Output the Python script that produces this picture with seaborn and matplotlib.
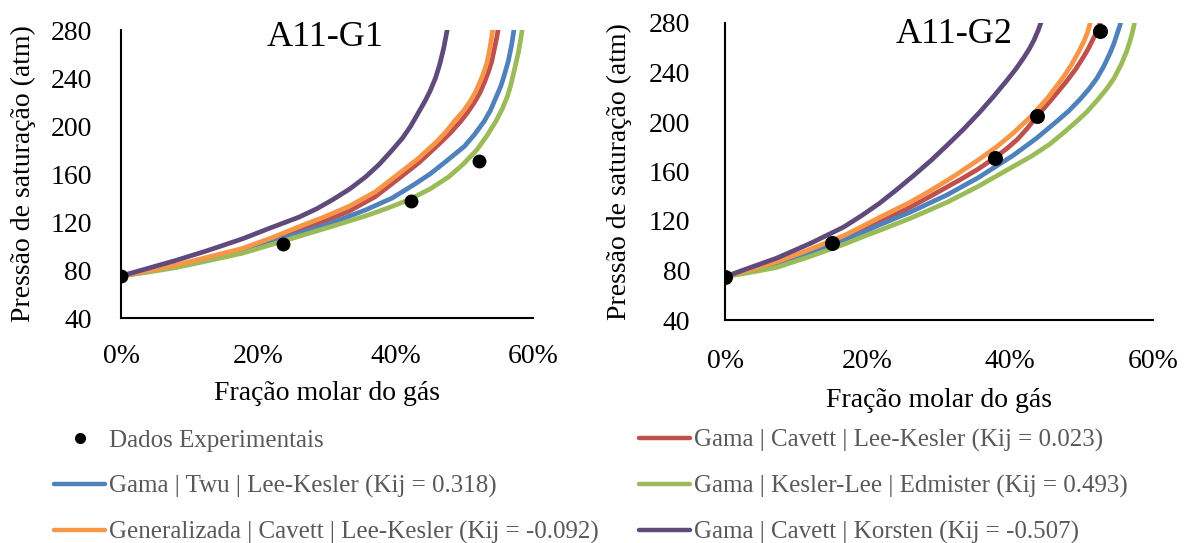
import numpy as np
import pandas as pd
import matplotlib
matplotlib.use("Agg")
import matplotlib.pyplot as plt
from matplotlib.ticker import PercentFormatter, FixedLocator
from matplotlib.lines import Line2D
import seaborn as sns

# ---------------- data (gas mole fraction in %, saturation pressure in atm) ----------------
series_names = [
    "Gama | Cavett | Lee-Kesler (Kij = 0.023)",
    "Gama | Twu | Lee-Kesler (Kij = 0.318)",
    "Gama | Kesler-Lee | Edmister (Kij = 0.493)",
    "Generalizada | Cavett | Lee-Kesler (Kij = -0.092)",
    "Gama | Cavett | Korsten (Kij = -0.507)",
]
exp_label = "Dados Experimentais"
series_colors = ["#C0504D", "#4F81BD", "#9BBB59", "#F79646", "#604A7B"]

# A11-G1
g1_exp_x = [0, 23.6, 42.3, 52.1]
g1_exp_y = [75, 102, 137.5, 171]

g1_red_x = [0, 4, 8, 12.5, 17.7, 21.8, 25.9, 29.5, 33.2, 37, 40.4, 43.5, 46.5, 48, 49.5,
            50.5, 51.5, 52.3, 52.9, 53.5, 54, 54.4, 54.7, 55.0]
g1_red_y = [75, 79, 83.5, 89.5, 97, 104.5, 113, 120.5, 129, 141, 156, 170, 186, 194.5, 204,
            211.5, 220, 228, 236, 245, 254, 265, 273, 283]
g1_blue_x = [0, 4, 8, 12.5, 17.7, 21.8, 25.9, 30.8, 35.6, 39.5, 42.9, 45, 47, 48.5, 50,
             51.5, 52.9, 53.8, 54.7, 55.3, 55.8, 56.4, 56.9, 57.3]
g1_blue_y = [75, 78.8, 83, 89, 96, 103, 110.5, 119.5, 130, 140, 152, 160, 169, 176, 183,
             193, 204, 213, 225, 233, 242, 254, 268, 283]
g1_green_x = [0, 4, 8, 12.5, 17.7, 21.8, 25.9, 30.8, 35.6, 38.8, 41.9, 45, 47.7, 49.8, 51.8,
              53.3, 54.6, 55.5, 56.3, 56.8, 57.3, 57.9, 58.2, 58.5]
g1_green_y = [75, 78.3, 82, 87.5, 94, 101, 108, 116.5, 125, 131.5, 138.5, 147.5, 157.5, 168, 180,
              192, 204, 214, 225, 235, 247, 262, 272, 283]
g1_orange_x = [0, 4, 8, 12.5, 17.7, 21.8, 25.9, 29.5, 33.2, 37, 40.4, 43.2, 45.8, 47.3, 48.7,
               49.8, 50.8, 51.6, 52.3, 52.8, 53.3, 53.6, 53.9, 54.2]
g1_orange_y = [75, 79.5, 84, 90.5, 98, 106.5, 116, 124, 133, 145, 160, 172.5, 186, 195, 205,
               212, 220, 228, 237, 244, 253, 261, 271, 283]
g1_purple_x = [0, 4, 8, 12.5, 17.7, 21.5, 25.9, 28.5, 30.8, 33.3, 35.6, 37.6, 39.5, 41, 42.2,
               43.5, 44.3, 45.0, 45.8, 46.4, 47.0, 47.6]
g1_purple_y = [75, 81.5, 88, 96, 106, 114.5, 124, 131, 138.5, 147.5, 157.5, 168, 180, 190, 200,
               213, 221, 229, 240, 251, 265, 283]

# A11-G2
g2_exp_x = [0, 15.0, 37.8, 43.7, 52.6]
g2_exp_y = [75, 102, 171, 205, 273.5]

g2_red_x = [0, 3.6, 7.25, 11, 15, 18.4, 21.7, 25.9, 28.8, 33, 35.5, 37.8, 39.5, 41, 42.4,
            43.7, 45.6, 47.9, 49.2, 50.3, 51, 51.6, 52.1, 52.5, 52.7]
g2_red_y = [75, 80.5, 86.5, 93.5, 102, 110, 119, 131, 140, 153.5, 162, 171, 178.5, 186, 195,
            204.5, 217, 233, 243, 253, 260, 267, 273, 279, 283]
g2_blue_x = [0, 3.6, 7.25, 12, 16.6, 19.2, 21.7, 25.9, 31.1, 35.5, 40.4, 43.7, 46.5, 48.2,
             49.8, 51, 52.1, 53.1, 54, 54.5, 54.9, 55.3, 55.6]
g2_blue_y = [75, 79.5, 84.5, 94, 104.5, 110.5, 117, 127, 141, 155, 173, 187, 200.5, 209,
             218.5, 226.5, 235, 245, 256, 263, 270, 277, 283]
g2_green_x = [0, 3.6, 7.25, 12, 16.6, 19.2, 21.7, 25.9, 31.1, 35.5, 40.4, 43, 45.5, 47.4,
              49.2, 50.7, 52.1, 53.4, 54.5, 55.5, 56.3, 56.7, 57.0, 57.3, 57.5]
g2_green_y = [75, 78.5, 82.5, 91.5, 101, 107, 112.5, 122, 135, 148, 164, 172.5, 182, 191,
              200, 208, 217, 226, 235, 246, 257, 264, 270, 277, 283]
g2_orange_x = [0, 3.6, 7.25, 11, 16.6, 19.2, 21.7, 25.9, 28.8, 32.3, 35.8, 38.2, 40.4, 43,
               45.3, 47.4, 48.6, 49.6, 50.3, 50.8, 51.3]
g2_orange_y = [75, 81, 87, 95, 108, 115.5, 123, 135, 144.5, 157, 170.5, 180.5, 191, 205,
               220, 236, 246.5, 257, 265, 272, 282]
g2_purple_x = [0, 3.6, 7.25, 12, 16.6, 19.2, 21.7, 24, 26.4, 28.8, 31.1, 33.5, 35.8, 37.7,
               39.5, 40.8, 42, 42.7, 43.3, 43.9, 44.4]
g2_purple_y = [75, 82.5, 90, 102, 115, 124.5, 134.5, 145, 156.5, 168.5, 181, 194.5, 208.5, 221,
               233.5, 243, 253, 259.5, 266, 274, 282]

y_ticks = [40, 80, 120, 160, 200, 240, 280]
x_ticks = [0, 20, 40, 60]
x_label = "Fração molar do gás"
y_label = "Pressão de saturação (atm)"
panel_titles = ["A11-G1", "A11-G2"]


def long_frame(curves):
    rows = []
    for name, xs, ys in curves:
        for x, y in zip(xs, ys):
            rows.append({"serie": name, "x": x / 100.0, "y": y})
    return pd.DataFrame(rows)


g1_curves = long_frame([
    (series_names[0], g1_red_x, g1_red_y),
    (series_names[1], g1_blue_x, g1_blue_y),
    (series_names[2], g1_green_x, g1_green_y),
    (series_names[3], g1_orange_x, g1_orange_y),
    (series_names[4], g1_purple_x, g1_purple_y),
])
g2_curves = long_frame([
    (series_names[0], g2_red_x, g2_red_y),
    (series_names[1], g2_blue_x, g2_blue_y),
    (series_names[2], g2_green_x, g2_green_y),
    (series_names[3], g2_orange_x, g2_orange_y),
    (series_names[4], g2_purple_x, g2_purple_y),
])
g1_points = pd.DataFrame({"x": np.array(g1_exp_x) / 100.0, "y": g1_exp_y})
g2_points = pd.DataFrame({"x": np.array(g2_exp_x) / 100.0, "y": g2_exp_y})

# ---------------- style ----------------
sns.set_style("white")
plt.rcParams["font.family"] = ["Liberation Serif", "DejaVu Serif"]

fig = plt.figure(figsize=(11.89, 5.43), dpi=100)
ax1 = fig.add_axes([121 / 1189, 1 - 318 / 543, 412 / 1189, 288 / 543])
ax2 = fig.add_axes([725 / 1189, 1 - 320 / 543, 428 / 1189, 297 / 543])

palette = dict(zip(series_names, series_colors))

panels = [
    (ax1, g1_curves, g1_points, panel_titles[0], (325, 38), 10, 21, 19, 10, 8),
    (ax2, g2_curves, g2_points, panel_titles[1], (954, 34), 10.8, 25, 21, 12, 10),
]

for ax, curves, points, title, tpos, ms, ypad, xpad, ylpad, xlpad in panels:
    sns.lineplot(data=curves, x="x", y="y", hue="serie", hue_order=series_names,
                 palette=palette, linewidth=3.4, sort=False, estimator=None,
                 legend=False, ax=ax, solid_capstyle="butt", solid_joinstyle="round")
    sns.scatterplot(data=points, x="x", y="y", color="black", s=ms ** 2,
                    edgecolor="black", linewidth=0, zorder=5, ax=ax, legend=False)
    ax.set_xlim(0, 0.6)
    ax.set_ylim(40, 280)
    ax.xaxis.set_major_locator(FixedLocator([t / 100 for t in x_ticks]))
    ax.yaxis.set_major_locator(FixedLocator(y_ticks))
    ax.xaxis.set_major_formatter(PercentFormatter(xmax=1.0, decimals=0))
    ax.tick_params(axis="both", length=0, labelsize=20, colors="black")
    ax.tick_params(axis="y", pad=ypad)
    ax.tick_params(axis="x", pad=xpad)
    for side in ("top", "right"):
        ax.spines[side].set_visible(False)
    for side in ("left", "bottom"):
        ax.spines[side].set_color("black")
        ax.spines[side].set_linewidth(1.5)
    ax.set_xlabel(x_label, fontsize=20, labelpad=xlpad, color="black")
    ax.set_ylabel(y_label, fontsize=20, labelpad=ylpad, color="black")
    ax.grid(False)
    fig.text(tpos[0] / 1189, 1 - tpos[1] / 543, title, fontsize=26,
             ha="center", va="center", color="black")

# ---------------- legend ----------------
handles = {name: Line2D([], [], color=c, linewidth=3.2)
           for name, c in zip(series_names, series_colors)}
handles[exp_label] = Line2D([], [], color="black", marker="o", linestyle="none",
                            markersize=7)
order = [exp_label, series_names[1], series_names[3],
         series_names[0], series_names[2], series_names[4]]
leg = fig.legend([handles[k] for k in order], order, ncol=2,
                 loc="upper left", bbox_to_anchor=(54 / 1189, 1 - 429 / 543),
                 frameon=False, fontsize=18, handlelength=2.05,
                 handletextpad=0.15, columnspacing=1.6, labelspacing=0.92,
                 borderaxespad=0, borderpad=0)
for t in leg.get_texts():
    t.set_color("#595959")

fig.savefig("out.png", dpi=100, facecolor="white")
